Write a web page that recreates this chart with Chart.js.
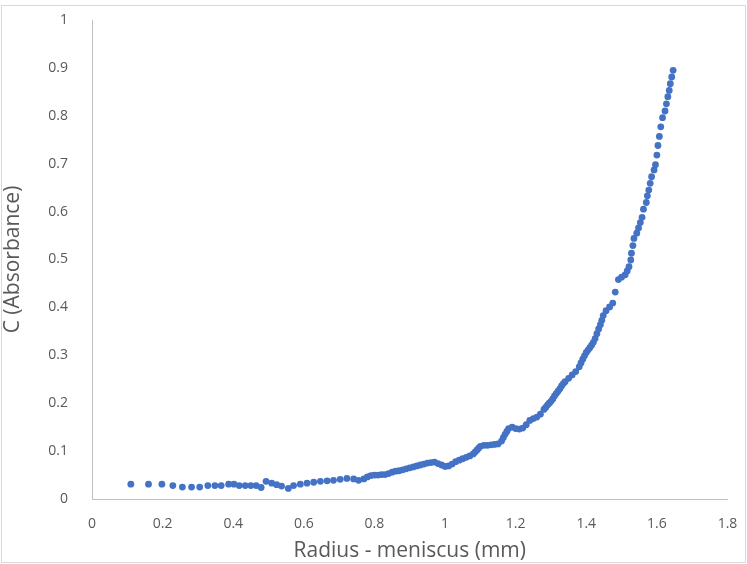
<!DOCTYPE html>
<html>
<head>
<meta charset="utf-8">
<script src="https://cdn.jsdelivr.net/npm/chart.js@4.4.0/dist/chart.umd.min.js"></script>
<style>
  html, body { margin: 0; padding: 0; background: #fff; }
  #wrap { width: 747px; height: 564px; }
</style>
</head>
<body>
<div id="wrap"><canvas id="myChart" width="747" height="564"></canvas></div>
<script>
// radius - meniscus (mm)
const radius = [
  0.110, 0.160, 0.198, 0.229, 0.256, 0.282, 0.305, 0.328, 0.348, 0.366,
  0.387, 0.402, 0.417, 0.434, 0.450, 0.465, 0.479, 0.493, 0.509, 0.523,
  0.537, 0.556, 0.571, 0.590, 0.609, 0.628, 0.647, 0.666, 0.684, 0.703,
  0.722, 0.741, 0.755, 0.770, 0.780, 0.790, 0.800, 0.810, 0.820, 0.830,
  0.840, 0.850, 0.860, 0.870, 0.880, 0.890, 0.900, 0.910, 0.920, 0.930,
  0.940, 0.950, 0.960, 0.970, 0.980, 0.990, 1.000, 1.010, 1.020, 1.030,
  1.040, 1.050, 1.060, 1.070, 1.080, 1.085, 1.090, 1.095, 1.100, 1.110,
  1.120, 1.130, 1.140, 1.150, 1.160, 1.165, 1.170, 1.175, 1.180, 1.190,
  1.200, 1.210, 1.220, 1.230, 1.240, 1.250, 1.260, 1.270, 1.280, 1.285,
  1.290, 1.295, 1.300, 1.305, 1.310, 1.315, 1.320, 1.325, 1.330, 1.335,
  1.340, 1.350, 1.360, 1.370, 1.380, 1.385, 1.390, 1.395, 1.400, 1.405,
  1.410, 1.415, 1.420, 1.425, 1.430, 1.435, 1.440, 1.444, 1.448, 1.456,
  1.466, 1.475, 1.482, 1.491, 1.500, 1.510, 1.516, 1.521, 1.526, 1.528,
  1.532, 1.535, 1.543, 1.548, 1.553, 1.558, 1.562, 1.570, 1.573, 1.577,
  1.581, 1.585, 1.592, 1.596, 1.600, 1.603, 1.607, 1.611, 1.616, 1.623,
  1.627, 1.631, 1.635, 1.638, 1.642, 1.646
];
// C (absorbance)
const absorbance = [
  0.031, 0.031, 0.031, 0.028, 0.025, 0.025, 0.025, 0.028, 0.028, 0.028,
  0.031, 0.031, 0.028, 0.028, 0.028, 0.028, 0.024, 0.037, 0.033, 0.030,
  0.027, 0.022, 0.028, 0.031, 0.033, 0.035, 0.037, 0.038, 0.039, 0.041,
  0.043, 0.042, 0.039, 0.042, 0.046, 0.049, 0.050, 0.050, 0.051, 0.051,
  0.053, 0.056, 0.058, 0.059, 0.061, 0.063, 0.065, 0.067, 0.069, 0.071,
  0.073, 0.075, 0.076, 0.077, 0.074, 0.071, 0.068, 0.069, 0.073, 0.078,
  0.081, 0.084, 0.087, 0.090, 0.094, 0.098, 0.102, 0.106, 0.110, 0.112,
  0.112, 0.113, 0.114, 0.115, 0.121, 0.128, 0.135, 0.141, 0.147, 0.150,
  0.147, 0.146, 0.148, 0.155, 0.164, 0.168, 0.171, 0.177, 0.187, 0.191,
  0.196, 0.200, 0.204, 0.209, 0.215, 0.220, 0.225, 0.230, 0.236, 0.241,
  0.245, 0.252, 0.259, 0.266, 0.276, 0.284, 0.292, 0.299, 0.306, 0.311,
  0.316, 0.321, 0.327, 0.335, 0.345, 0.355, 0.364, 0.373, 0.383, 0.393,
  0.401, 0.409, 0.432, 0.458, 0.463, 0.468, 0.476, 0.485, 0.499, 0.513,
  0.529, 0.544, 0.555, 0.566, 0.577, 0.588, 0.605, 0.619, 0.633, 0.645,
  0.659, 0.673, 0.687, 0.698, 0.718, 0.738, 0.757, 0.777, 0.796, 0.810,
  0.825, 0.840, 0.853, 0.867, 0.881, 0.895
];

const xTitle = 'Radius - meniscus (mm)';
const yTitle = 'C (Absorbance)';
const xMax = 1.8, xStep = 0.2;
const yMax = 1, yStep = 0.1;

const points = radius.map((r, i) => ({ x: r, y: absorbance[i] }));
const textColor = '#595959';
const font = "'Open Sans', 'Liberation Sans', sans-serif";

// thin grey frame like the spreadsheet chart
const frame = {
  id: 'frame',
  beforeDraw(c) {
    const ctx = c.ctx;
    ctx.save();
    ctx.fillStyle = '#fff';
    ctx.fillRect(0, 0, c.width, c.height);
    ctx.strokeStyle = '#d9d9d9';
    ctx.lineWidth = 1;
    ctx.strokeRect(1.5, 5.5, 744, 557);
    ctx.restore();
  }
};

new Chart(document.getElementById('myChart'), {
  type: 'scatter',
  data: {
    datasets: [{
      data: points,
      backgroundColor: '#4472C4',
      borderColor: '#4472C4',
      pointRadius: 3.4,
      pointBorderWidth: 0,
      pointHoverRadius: 3.4
    }]
  },
  options: {
    responsive: false,
    animation: false,
    layout: { padding: { top: 20, right: 19.5, bottom: 0, left: 0 } },
    plugins: { legend: { display: false }, tooltip: { enabled: false } },
    scales: {
      x: {
        type: 'linear',
        min: 0, max: xMax,
        afterFit(s) { s.height = 65; s.paddingLeft = 0; s.paddingRight = 0; },
        grid: { display: false },
        border: { display: true, color: '#bfbfbf', width: 1 },
        ticks: {
          stepSize: xStep,
          color: textColor,
          padding: 9,
          font: { family: font, size: 14 },
          callback: v => +v.toFixed(1) + ''
        },
        title: {
          display: true, text: xTitle, color: textColor,
          font: { family: font, size: 21 }, padding: { top: 2, bottom: 0 }
        }
      },
      y: {
        type: 'linear',
        min: 0, max: yMax,
        afterFit(s) { s.width = 92; s.paddingTop = 0; s.paddingBottom = 0; },
        grid: { display: false },
        border: { display: true, color: '#bfbfbf', width: 1 },
        ticks: {
          stepSize: yStep,
          color: textColor,
          padding: 16,
          font: { family: font, size: 14 },
          callback: v => +v.toFixed(1) + ''
        },
        title: {
          display: true, text: yTitle, color: textColor,
          font: { family: font, size: 21 }, padding: { top: 0, bottom: 4 }
        }
      }
    }
  },
  plugins: [frame]
});
</script>
</body>
</html>
